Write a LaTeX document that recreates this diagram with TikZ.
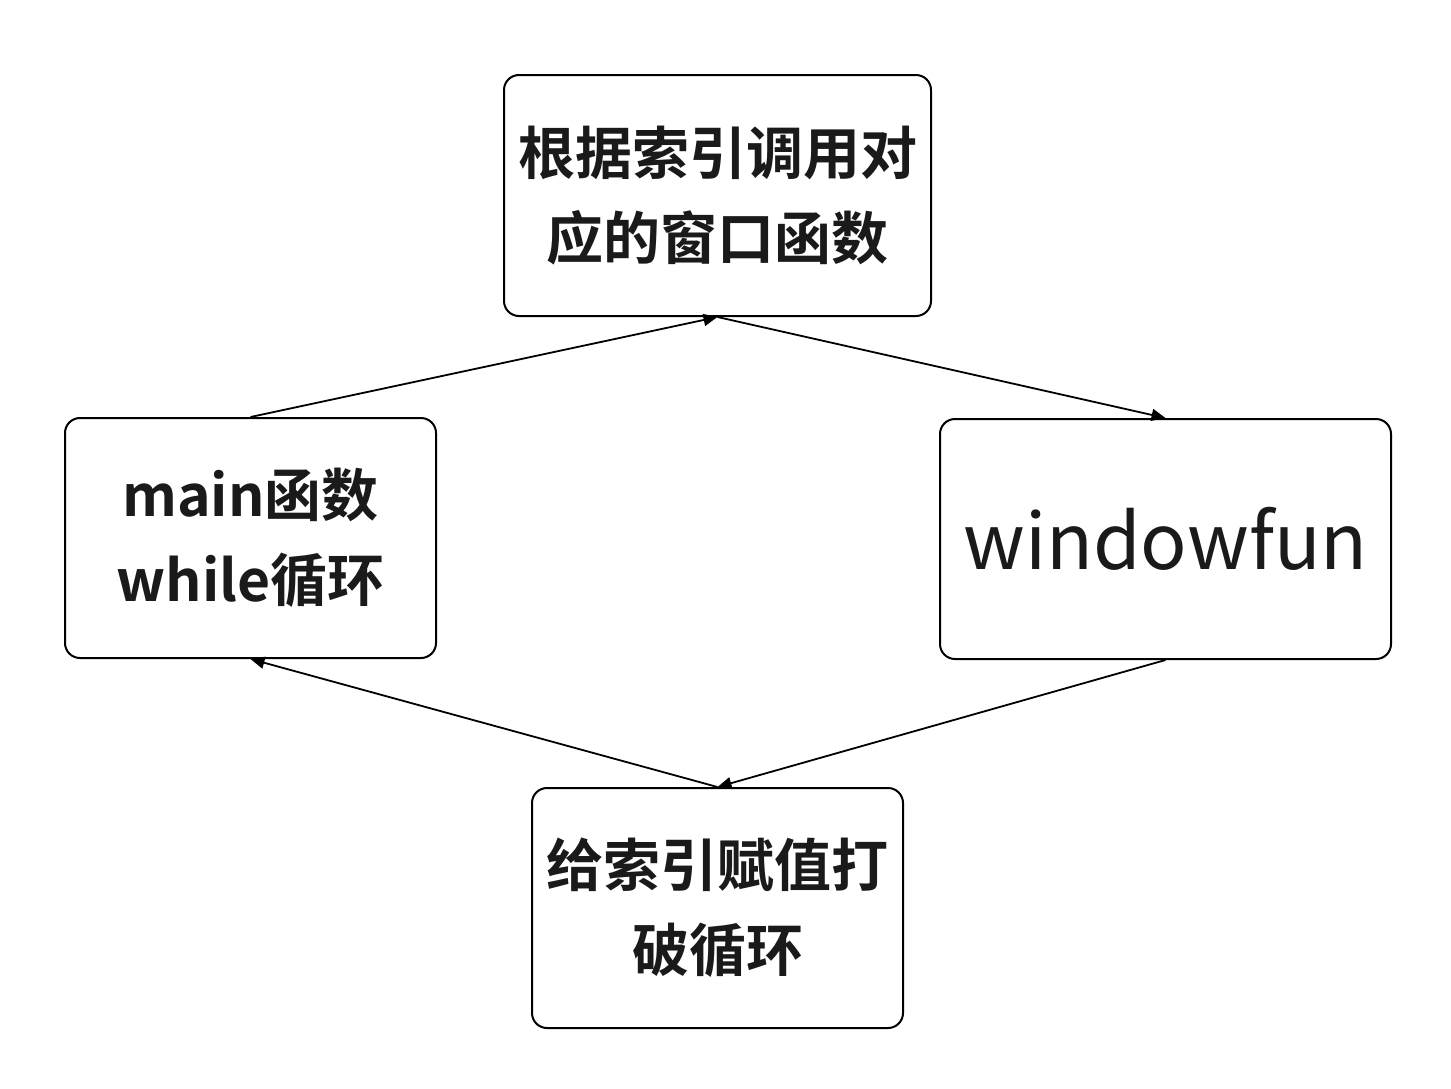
\documentclass[tikz,border=0pt]{standalone}
\usepackage{fontspec}
\setmainfont{Noto Sans CJK SC}
\newfontfamily\cjkb{Noto Sans CJK SC Bold}
\usetikzlibrary{arrows.meta}
\definecolor{txt}{HTML}{1A1A1A}
\tikzset{
  box/.style={draw=black, line width=1pt, rounded corners=7.5pt, inner sep=0pt, align=center, text=txt},
  boldtxt/.style={font=\cjkb\fontsize{28.5}{42.5}\selectfont},
  conn/.style={draw=black, line width=0.9pt, -{Triangle[length=7pt,width=6pt]}}
}
\begin{document}
\begin{tikzpicture}[x=0.5pt,y=-0.5pt]
\useasboundingbox[fill=white] (0,0) rectangle (1451,1088);
\node[box, boldtxt, minimum width=213.5pt, minimum height=120.5pt] (top) at (717.5,195.5) {根据索引调用对\\应的窗口函数};
\node[box, boldtxt, minimum width=185.5pt, minimum height=120pt] (left) at (250.5,538) {main函数\\while循环};
\node[box, font=\fontsize{38.5}{48}\selectfont, minimum width=225.5pt, minimum height=120pt] (right) at (1165.5,539) {windowfun};
\node[box, boldtxt, minimum width=185.5pt, minimum height=120pt] (bot) at (717.5,908) {给索引赋值打\\破循环};
\draw[conn] (left.north) -- (top.south);
\draw[conn] (top.south) -- (right.north);
\draw[conn] (right.south) -- (bot.north);
\draw[conn] (bot.north) -- (left.south);
\end{tikzpicture}
\end{document}
